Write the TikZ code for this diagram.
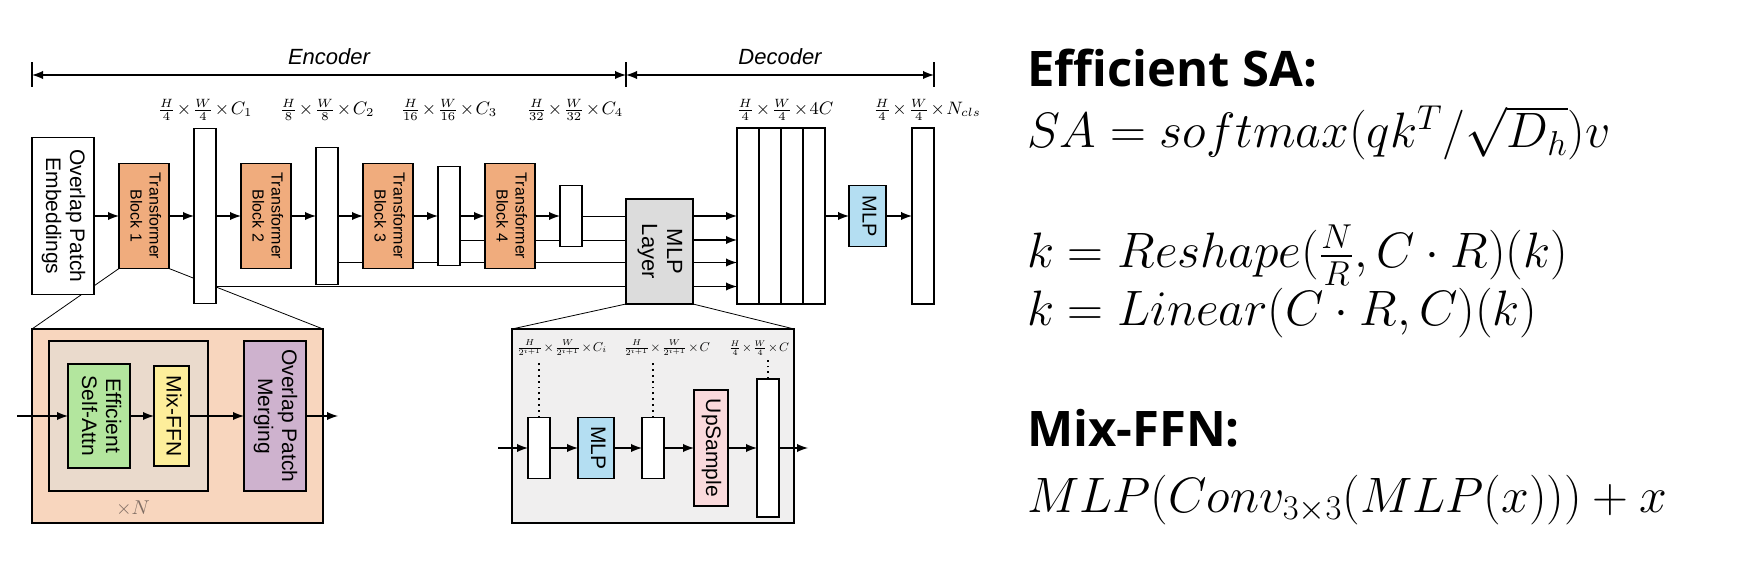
\documentclass[tikz,border=0pt]{standalone}
\usepackage{amsmath,amssymb}
\usepackage{graphicx}
\usepackage{fontspec}
\setsansfont{Liberation Sans}
\newfontfamily\headfont{Open Sans}
\usepackage{tikz}
\usetikzlibrary{shapes,arrows,positioning,fit,calc,backgrounds}

\definecolor{tbfill}{RGB}{240,172,125}
\definecolor{encpeach}{RGB}{248,214,190}
\definecolor{beige}{RGB}{234,218,204}
\definecolor{esagreen}{RGB}{179,230,158}
\definecolor{ffnyellow}{RGB}{253,238,155}
\definecolor{mergepurple}{RGB}{206,178,206}
\definecolor{mlpblue}{RGB}{180,222,242}
\definecolor{uppink}{RGB}{250,218,220}
\definecolor{mlpgray}{RGB}{220,220,220}
\definecolor{panelgray}{RGB}{240,239,239}
\definecolor{xngray}{RGB}{128,110,100}

\newcommand{\vtxt}[1]{\rotatebox{-90}{\begin{tabular}{@{}c@{}}#1\end{tabular}}}
\newcommand{\tx}{\mskip1.5mu{\times}\mskip1.5mu}
\newcommand{\fitdim}[2]{\resizebox{#1}{!}{$#2$}}

\begin{document}
\begin{tikzpicture}[
                    x=0.5pt, y=-0.5pt,
                    every node/.style={font=\sffamily\fontsize{10.5}{12}\selectfont},
                    box/.style={draw, line width=0.9pt, inner sep=0pt, outer sep=0pt},
                    tblock/.style={box, fill=tbfill, minimum width=25pt, minimum height=52.5pt, font=\sffamily\fontsize{8}{9.5}\selectfont},
                    fmap/.style={box, fill=white, minimum width=11pt},
                    dimlabel/.style={inner sep=0pt, font=\fontsize{9}{10}\selectfont},
                    smalldim/.style={inner sep=0pt, font=\fontsize{9}{10}\selectfont},
                    arr/.style={-latex, line width=0.9pt},
                    heading/.style={anchor=base west, font=\headfont\bfseries\fontsize{24.5}{28}\selectfont},
                    formula/.style={anchor=base west, font=\fontsize{24}{28}\selectfont},
                    node distance=12.5pt
                ]
                    \useasboundingbox (0,0) rectangle (1762,566);

                    % encoder
                    \node[box, fill=white, minimum width=31pt, minimum height=78.5pt] (ope) at (63,216) {\vtxt{Overlap Patch\\Embeddings}};
                    \node[tblock, right=of ope] (tb1) {\vtxt{Transformer\\Block 1}};
                    \node[fmap, minimum height=87.5pt, right=of tb1] (f1) {};
                    \node[tblock, right=of f1] (tb2) {\vtxt{Transformer\\Block 2}};
                    \node[fmap, minimum height=68.5pt, right=of tb2] (f2) {};
                    \node[tblock, right=of f2] (tb3) {\vtxt{Transformer\\Block 3}};
                    \node[fmap, minimum height=49.5pt, right=of tb3] (f3) {};
                    \node[tblock, right=of f3] (tb4) {\vtxt{Transformer\\Block 4}};
                    \node[fmap, minimum height=30.5pt, right=of tb4] (f4) {};

                    \node[dimlabel] (c1) at (f1 |- 0,110) {$\frac{H}{4}\tx\frac{W}{4}\tx C_1$};
                    \node[dimlabel] (c2) at (f2 |- 0,110) {$\frac{H}{8}\tx\frac{W}{8}\tx C_2$};
                    \node[dimlabel] (c3) at (f3 |- 0,110) {$\frac{H}{16}\tx\frac{W}{16}\tx C_3$};
                    \node[dimlabel] (c4) at ([xshift=2pt]f4 |- 0,110) {$\frac{H}{32}\tx\frac{W}{32}\tx C_4$};

                    % decoder
                    \node[box, fill=mlpgray, minimum width=33.5pt, minimum height=52.5pt, anchor=north west, font=\sffamily\fontsize{11}{12.5}\selectfont] (mlp) at (626,199) {\vtxt{MLP\\Layer}};
                    \node[fmap, minimum height=88pt, anchor=west] (d1) at (737,216) {};
                    \node[fmap, minimum height=88pt, right=0pt of d1] (d2) {};
                    \node[fmap, minimum height=88pt, right=0pt of d2] (d3) {};
                    \node[fmap, minimum height=88pt, right=0pt of d3] (d4) {};
                    \node[box, fill=mlpblue, minimum width=18.5pt, minimum height=30.5pt, right=12pt of d4, font=\sffamily\fontsize{10}{12}\selectfont] (mlpd) {\vtxt{MLP}};
                    \node[fmap, minimum height=88pt, right=13pt of mlpd] (out) {};

                    \node[dimlabel] (c4c) at ([xshift=2pt]d2.east |- 0,110) {$\frac{H}{4}\tx\frac{W}{4}\tx 4C$};
                    \node[dimlabel] (cls) at ([xshift=2pt]out |- 0,110) {$\frac{H}{4}\tx\frac{W}{4}\tx N_{cls}$};

                    % spans
                    \coordinate (encL) at (ope.west |- 0,75);
                    \coordinate (encR) at (mlp.west |- 0,75);
                    \coordinate (decR) at (out.east |- 0,75);
                    \draw[latex-latex, line width=0.9pt] (encL) -- (encR);
                    \draw[latex-latex, line width=0.9pt] (encR) -- (decR);
                    \foreach \c in {encL,encR,decR}
                        \draw[line width=0.9pt] ([yshift=6.25pt]\c) -- ([yshift=-6.25pt]\c);
                    \node[font=\sffamily\itshape\fontsize{11}{12}\selectfont] (enc) at ($(encL)!0.5!(encR)+(0,-18)$) {Encoder};
                    \node[font=\sffamily\itshape\fontsize{11}{12}\selectfont] (dec) at ($(encR)!0.5!(decR)+(0,-18)$) {Decoder};

                    % detail panels
                    \node[box, fill=encpeach, minimum width=145.5pt, minimum height=97pt, anchor=north west] (encd) at (32,329) {};
                    \node[box, fill=beige, minimum width=79.5pt, minimum height=75pt, anchor=north west] (rep) at (49,341) {};
                    \node[box, fill=esagreen, minimum width=31pt, minimum height=52pt] (esa) at (99,416) {\vtxt{Efficient\\Self-Attn}};
                    \node[box, fill=ffnyellow, minimum width=17.5pt, minimum height=50pt, right=12pt of esa] (ffn) {\vtxt{Mix-FFN}};
                    \node[box, fill=mergepurple, minimum width=31pt, minimum height=75pt, anchor=north west] (opm) at (244,341) {\vtxt{Overlap Patch\\Merging}};
                    \node[text=xngray, font=\fontsize{10}{12}\selectfont] (xn) at (133,509) {$\times N$};
                    \coordinate (inL) at (17,416);
                    \coordinate (outL) at (338,416);

                    \node[box, fill=panelgray, minimum width=141pt, minimum height=97pt, anchor=north west] (decd) at (512,329) {};
                    \node[fmap, minimum height=30.5pt] (ma) at (539,448) {};
                    \node[box, fill=mlpblue, minimum width=18pt, minimum height=30.5pt, right=14pt of ma] (mlps) {\vtxt{MLP}};
                    \node[fmap, minimum height=30.5pt, right=14pt of mlps] (mb) {};
                    \node[box, fill=uppink, minimum width=17pt, minimum height=58pt, right=15pt of mb] (up) {\vtxt{UpSample}};
                    \node[fmap, minimum height=69pt, right=14.5pt of up] (mc) {};
                    \node[smalldim] (la) at (562,348) {\fitdim{45pt}{\frac{H}{2^{i+1}}\tx\frac{W}{2^{i+1}}\tx C_i}};
                    \node[smalldim] (lb) at (667,348) {\fitdim{43pt}{\frac{H}{2^{i+1}}\tx\frac{W}{2^{i+1}}\tx C}};
                    \node[smalldim] (lc) at (759,348) {\fitdim{30pt}{\frac{H}{4}\tx\frac{W}{4}\tx C}};
                    \coordinate (inR) at (498,448);
                    \coordinate (outR) at (808,448);

                    % lines behind the boxes
                    \coordinate (s3) at ([yshift=-12pt]f3.east);
                    \coordinate (s2) at ([yshift=-23.25pt]f2.east);
                    \coordinate (s1) at ([yshift=-35.25pt]f1.east);
                    \begin{scope}[on background layer, line width=0.9pt]
                        \foreach \s in {f4.east,s3,s2,s1}
                            \draw (\s) -- (\s -| mlp.west);
                        \draw (tb1.south west) -- (encd.north west);
                        \draw (tb1.south east) -- (encd.north east);
                        \draw (mlp.south west) -- (decd.north west);
                        \draw (mlp.south east) -- (decd.north east);
                    \end{scope}

                    % arrows
                    \foreach \a/\b in {ope/tb1,tb1/f1,f1/tb2,tb2/f2,f2/tb3,tb3/f3,f3/tb4,tb4/f4,d4/mlpd,mlpd/out}
                        \draw[arr] (\a) -- (\b);
                    \foreach \s in {f4.east,s3,s2,s1}
                        \draw[arr] (\s -| mlp.east) -- (\s -| d1.west);
                    \foreach \a/\b in {inL/esa,esa/ffn,ffn/opm,opm/outL,inR/ma,ma/mlps,mlps/mb,mb/up,up/mc,mc/outR}
                        \draw[arr] (\a) -- (\b);
                    \draw[dotted, line width=0.9pt] (ma.north) -- ([yshift=-2pt]ma.north |- la.south);
                    \draw[dotted, line width=0.9pt] (mb.north) -- ([yshift=-2pt]mb.north |- lb.south);
                    \draw[dotted, line width=0.9pt] (mc.north) -- ([yshift=-2pt]mc.north |- lc.south);

                    % formulas
                    \node[heading] (hsa) at (1020,87) {Efficient SA:};
                    \node[formula] (eqsa) at (1020,148) {$SA = softmax(qk^T/\sqrt{D_h})v$};
                    \node[formula] (eqr) at (1020,268) {$k = Reshape(\frac{N}{R}, C\cdot R)(k)$};
                    \node[formula] (eql) at (1020,326) {$k = Linear(C\cdot R, C)(k)$};
                    \node[heading] (hffn) at (1020,447) {Mix-FFN:};
                    \node[formula] (eqf) at (1020,512) {$MLP(Conv_{3\times 3}(MLP(x))) + x$};
                \end{tikzpicture}
\end{document}
